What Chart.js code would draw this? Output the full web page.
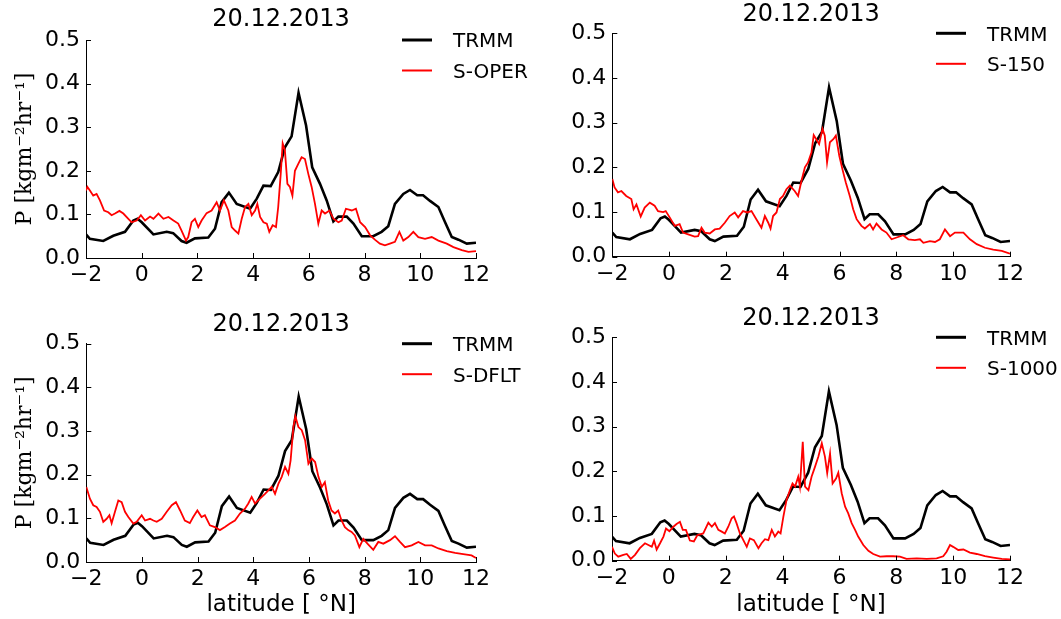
<!DOCTYPE html>
<html>
<head>
<meta charset="utf-8">
<script src="https://cdn.jsdelivr.net/npm/chart.js@4.4.1/dist/chart.umd.min.js"></script>
<style>
  body { margin: 0; background: #fff; }
  #wrap { position: relative; width: 1061px; height: 619px; }
  .panel { position: absolute; }
</style>
</head>
<body>
<div id="wrap">
  <div class="panel" style="left:0;top:0;width:530px;height:300px"><canvas id="c1"></canvas></div>
  <div class="panel" style="left:530px;top:0;width:531px;height:300px"><canvas id="c2"></canvas></div>
  <div class="panel" style="left:0;top:300px;width:530px;height:319px"><canvas id="c3"></canvas></div>
  <div class="panel" style="left:530px;top:300px;width:531px;height:319px"><canvas id="c4"></canvas></div>
</div>
<script>
// data
const dateTitle = '20.12.2013';
const xTicks = [-2, 0, 2, 4, 6, 8, 10, 12];
const xTickLabels = ['\u22122', '0', '2', '4', '6', '8', '10', '12'];
const yTicks = [0, 0.1, 0.2, 0.3, 0.4, 0.5];
const yTickLabels = ['0.0', '0.1', '0.2', '0.3', '0.4', '0.5'];

// TRMM (same in every panel)
const latTRMM = [-2, -1.86, -1.38, -1.02, -0.6, -0.3, -0.15, 0.0, 0.42, 0.9, 1.13, 1.43, 1.61, 1.91, 2.39, 2.63, 2.87, 3.13, 3.41, 3.89, 4.13, 4.37, 4.63, 4.9, 5.14, 5.38, 5.63, 5.9, 6.12, 6.4, 6.64, 6.88, 7.06, 7.36, 7.6, 7.9, 8.31, 8.61, 8.85, 9.09, 9.39, 9.63, 9.89, 10.1, 10.35, 10.65, 10.89, 11.13, 11.37, 11.67, 12];
const precTRMM = [0.054, 0.044, 0.039, 0.051, 0.06, 0.086, 0.09, 0.082, 0.054, 0.06, 0.057, 0.039, 0.035, 0.045, 0.047, 0.067, 0.128, 0.15, 0.124, 0.113, 0.136, 0.166, 0.165, 0.197, 0.254, 0.279, 0.379, 0.304, 0.208, 0.17, 0.132, 0.084, 0.095, 0.095, 0.079, 0.05, 0.05, 0.06, 0.073, 0.124, 0.147, 0.156, 0.144, 0.144, 0.131, 0.117, 0.082, 0.048, 0.042, 0.033, 0.035];

// S-OPER
const latOPER = [-2, -1.95, -1.86, -1.74, -1.62, -1.5, -1.35, -1.2, -1.08, -0.96, -0.8, -0.66, -0.48, -0.36, -0.18, -0.03, 0.12, 0.3, 0.42, 0.6, 0.78, 0.96, 1.14, 1.31, 1.43, 1.59, 1.67, 1.79, 1.91, 2.03, 2.15, 2.33, 2.51, 2.69, 2.81, 2.95, 3.11, 3.23, 3.35, 3.47, 3.59, 3.71, 3.83, 3.95, 4.07, 4.15, 4.25, 4.37, 4.49, 4.58, 4.7, 4.82, 4.9, 4.99, 5.06, 5.14, 5.23, 5.32, 5.41, 5.5, 5.62, 5.74, 5.86, 5.98, 6.1, 6.22, 6.34, 6.46, 6.58, 6.74, 6.88, 7.06, 7.18, 7.33, 7.54, 7.69, 7.84, 8.02, 8.2, 8.37, 8.55, 8.73, 8.91, 9.09, 9.25, 9.39, 9.57, 9.75, 9.93, 10.17, 10.41, 10.65, 10.95, 11.19, 11.49, 11.73, 12];
const precOPER = [0.155, 0.163, 0.155, 0.143, 0.147, 0.132, 0.109, 0.105, 0.098, 0.102, 0.108, 0.102, 0.09, 0.082, 0.086, 0.098, 0.086, 0.095, 0.09, 0.102, 0.09, 0.094, 0.086, 0.079, 0.063, 0.04, 0.048, 0.082, 0.09, 0.071, 0.086, 0.103, 0.109, 0.128, 0.109, 0.132, 0.109, 0.071, 0.063, 0.056, 0.09, 0.117, 0.124, 0.098, 0.109, 0.124, 0.094, 0.082, 0.079, 0.06, 0.075, 0.071, 0.117, 0.193, 0.263, 0.247, 0.17, 0.163, 0.143, 0.2, 0.216, 0.231, 0.227, 0.193, 0.163, 0.124, 0.079, 0.109, 0.102, 0.109, 0.09, 0.082, 0.086, 0.113, 0.109, 0.113, 0.082, 0.071, 0.052, 0.042, 0.033, 0.029, 0.033, 0.037, 0.06, 0.04, 0.048, 0.06, 0.048, 0.044, 0.048, 0.04, 0.033, 0.025, 0.018, 0.014, 0.016];

// S-150
const lat150 = [-2, -1.92, -1.8, -1.68, -1.51, -1.33, -1.25, -1.15, -1.0, -0.86, -0.68, -0.51, -0.39, -0.21, -0.12, 0.02, 0.2, 0.37, 0.49, 0.67, 0.9, 1.02, 1.14, 1.25, 1.43, 1.61, 1.78, 1.96, 2.13, 2.31, 2.43, 2.6, 2.75, 2.9, 3.07, 3.25, 3.37, 3.49, 3.57, 3.66, 3.78, 3.9, 4.01, 4.13, 4.25, 4.42, 4.54, 4.66, 4.78, 4.89, 5.01, 5.09, 5.18, 5.28, 5.4, 5.48, 5.56, 5.66, 5.78, 5.87, 5.99, 6.1, 6.22, 6.36, 6.48, 6.6, 6.77, 6.89, 7.07, 7.18, 7.3, 7.48, 7.65, 7.83, 8.01, 8.24, 8.42, 8.65, 8.83, 8.95, 9.18, 9.36, 9.53, 9.71, 9.89, 10.06, 10.36, 10.59, 10.83, 11.12, 11.41, 11.71, 12];
const prec150 = [0.174, 0.155, 0.144, 0.147, 0.136, 0.129, 0.106, 0.117, 0.09, 0.11, 0.121, 0.114, 0.102, 0.1, 0.102, 0.088, 0.069, 0.073, 0.054, 0.05, 0.045, 0.046, 0.065, 0.054, 0.052, 0.061, 0.063, 0.076, 0.091, 0.099, 0.088, 0.102, 0.099, 0.102, 0.084, 0.065, 0.091, 0.076, 0.063, 0.091, 0.099, 0.129, 0.136, 0.151, 0.159, 0.147, 0.136, 0.17, 0.2, 0.211, 0.233, 0.272, 0.263, 0.252, 0.286, 0.271, 0.211, 0.256, 0.263, 0.271, 0.226, 0.196, 0.166, 0.136, 0.106, 0.084, 0.069, 0.063, 0.073, 0.061, 0.074, 0.061, 0.054, 0.039, 0.043, 0.048, 0.039, 0.037, 0.039, 0.031, 0.035, 0.033, 0.039, 0.061, 0.046, 0.054, 0.054, 0.039, 0.028, 0.02, 0.016, 0.013, 0.007];

// S-DFLT
const latDFLT = [-2, -1.87, -1.75, -1.63, -1.51, -1.39, -1.27, -1.17, -1.09, -0.97, -0.85, -0.73, -0.61, -0.49, -0.31, -0.19, -0.01, 0.11, 0.29, 0.41, 0.53, 0.71, 0.89, 1.07, 1.22, 1.37, 1.54, 1.72, 1.84, 1.99, 2.14, 2.26, 2.44, 2.62, 2.8, 2.98, 3.16, 3.34, 3.52, 3.7, 3.82, 3.94, 4.06, 4.24, 4.42, 4.54, 4.66, 4.78, 4.9, 5.02, 5.14, 5.26, 5.34, 5.44, 5.51, 5.62, 5.74, 5.86, 5.98, 6.1, 6.22, 6.34, 6.46, 6.57, 6.69, 6.81, 6.93, 7.05, 7.17, 7.29, 7.41, 7.53, 7.65, 7.81, 7.95, 8.1, 8.31, 8.49, 8.67, 8.91, 9.09, 9.27, 9.45, 9.69, 9.93, 10.17, 10.41, 10.65, 10.95, 11.25, 11.54, 11.84, 12];
const precDFLT = [0.172, 0.145, 0.13, 0.126, 0.115, 0.092, 0.099, 0.107, 0.089, 0.115, 0.141, 0.137, 0.115, 0.103, 0.088, 0.092, 0.107, 0.095, 0.099, 0.095, 0.092, 0.099, 0.115, 0.13, 0.137, 0.118, 0.095, 0.089, 0.103, 0.118, 0.103, 0.107, 0.084, 0.08, 0.073, 0.08, 0.088, 0.095, 0.111, 0.122, 0.134, 0.149, 0.134, 0.145, 0.156, 0.164, 0.172, 0.156, 0.179, 0.195, 0.218, 0.202, 0.233, 0.309, 0.334, 0.309, 0.302, 0.279, 0.225, 0.237, 0.229, 0.195, 0.172, 0.183, 0.141, 0.118, 0.111, 0.118, 0.095, 0.08, 0.073, 0.069, 0.061, 0.034, 0.053, 0.042, 0.028, 0.046, 0.042, 0.05, 0.059, 0.046, 0.034, 0.038, 0.046, 0.038, 0.038, 0.031, 0.025, 0.021, 0.018, 0.015, 0.009];

// S-1000
const lat1000 = [-2, -1.9, -1.78, -1.6, -1.48, -1.34, -1.19, -1.02, -0.84, -0.72, -0.6, -0.52, -0.43, -0.31, -0.19, -0.1, 0.02, 0.16, 0.27, 0.39, 0.49, 0.6, 0.74, 0.88, 1.0, 1.21, 1.39, 1.51, 1.62, 1.74, 1.86, 1.97, 2.09, 2.21, 2.29, 2.38, 2.5, 2.62, 2.74, 2.85, 2.99, 3.15, 3.26, 3.38, 3.5, 3.62, 3.73, 3.85, 3.93, 4.03, 4.14, 4.26, 4.35, 4.44, 4.55, 4.61, 4.71, 4.79, 4.91, 5.02, 5.14, 5.26, 5.38, 5.49, 5.57, 5.67, 5.76, 5.88, 5.96, 6.08, 6.2, 6.31, 6.43, 6.55, 6.66, 6.84, 7.02, 7.19, 7.43, 7.66, 7.89, 8.13, 8.36, 8.72, 9.07, 9.42, 9.65, 9.77, 9.89, 10.0, 10.18, 10.36, 10.59, 10.83, 11.12, 11.41, 11.71, 12];
const prec1000 = [0.031, 0.016, 0.009, 0.013, 0.015, 0.004, 0.013, 0.028, 0.039, 0.035, 0.031, 0.045, 0.025, 0.039, 0.054, 0.072, 0.066, 0.076, 0.082, 0.087, 0.069, 0.069, 0.045, 0.043, 0.057, 0.061, 0.085, 0.076, 0.084, 0.069, 0.065, 0.061, 0.076, 0.095, 0.099, 0.084, 0.061, 0.046, 0.031, 0.05, 0.046, 0.028, 0.039, 0.048, 0.046, 0.069, 0.054, 0.065, 0.061, 0.099, 0.136, 0.158, 0.173, 0.166, 0.188, 0.166, 0.266, 0.166, 0.158, 0.188, 0.21, 0.233, 0.263, 0.233, 0.196, 0.24, 0.173, 0.184, 0.197, 0.151, 0.121, 0.106, 0.084, 0.069, 0.054, 0.035, 0.022, 0.015, 0.009, 0.01, 0.01, 0.009, 0.004, 0.005, 0.004, 0.005, 0.01, 0.02, 0.035, 0.031, 0.024, 0.025, 0.018, 0.015, 0.01, 0.007, 0.004, 0.003];

// inward tick marks, like the matplotlib original
const inTicks = {
  id: 'inTicks',
  afterDraw(chart) {
    const {ctx, chartArea: a, scales: {x, y}} = chart;
    ctx.save();
    ctx.strokeStyle = '#000';
    ctx.lineWidth = 1;
    ctx.beginPath();
    x.ticks.forEach(t => {
      const px = Math.round(x.getPixelForValue(t.value)) + 0.5;
      ctx.moveTo(px, a.bottom);
      ctx.lineTo(px, a.bottom - 5);
    });
    y.ticks.forEach(t => {
      const py = Math.round(y.getPixelForValue(t.value)) + 0.5;
      ctx.moveTo(a.left, py);
      ctx.lineTo(a.left + 5, py);
    });
    ctx.stroke();
    ctx.restore();
  }
};

// legend with line samples, sitting at the top right
const lineLegend = {
  id: 'lineLegend',
  afterDraw(chart) {
    const {ctx, chartArea: a} = chart;
    ctx.save();
    ctx.font = '20px "DejaVu Sans"';
    ctx.textBaseline = 'alphabetic';
    ctx.fillStyle = '#000';
    chart.data.datasets.forEach((ds, i) => {
      const yy = a.top + i * 30.5;
      ctx.strokeStyle = ds.borderColor;
      ctx.lineWidth = ds.legendWidth;
      ctx.beginPath();
      ctx.moveTo(a.right - 74, yy);
      ctx.lineTo(a.right - 44, yy);
      ctx.stroke();
      ctx.fillText(ds.label, a.right - 23, yy + 7.3);
    });
    ctx.restore();
  }
};

function makePanel(id, lat, prec, label, box) {
  new Chart(document.getElementById(id), {
    type: 'line',
    data: {
      datasets: [
        {
          label: 'TRMM',
          data: latTRMM.map((x, i) => ({x: x, y: precTRMM[i]})),
          borderColor: '#000000',
          borderWidth: 2.6,
          legendWidth: 3,
          order: 1
        },
        {
          label: label,
          data: lat.map((x, i) => ({x: x, y: prec[i]})),
          borderColor: '#ff0000',
          borderWidth: 1.8,
          legendWidth: 2,
          order: 0
        }
      ]
    },
    options: {
      responsive: true,
      maintainAspectRatio: false,
      animation: false,
      events: [],
      layout: {padding: {left: 0, top: 0, right: box.padRight, bottom: 0}},
      elements: {point: {radius: 0}, line: {tension: 0}},
      plugins: {
        legend: {display: false},
        tooltip: {enabled: false},
        title: {
          display: true,
          fullSize: false,
          text: dateTitle,
          color: '#000',
          font: {family: 'DejaVu Sans', size: 24, weight: 'normal'},
          padding: {top: box.titleTop, bottom: box.titleBottom}
        }
      },
      scales: {
        x: {
          type: 'linear',
          min: -2,
          max: 12,
          afterBuildTicks: s => { s.ticks = xTicks.map(v => ({value: v})); },
          afterFit: s => { s.height = box.xAxisH; },
          grid: {display: false, drawTicks: false},
          border: {display: true, color: '#000', width: 1},
          ticks: {
            color: '#000',
            padding: 4,
            maxRotation: 0,
            font: {family: 'DejaVu Sans', size: 22},
            callback: (v, i) => xTickLabels[i]
          },
          title: {
            display: box.xTitle,
            text: 'latitude [ \u00b0N]',
            color: '#000',
            font: {family: 'DejaVu Sans', size: 23},
            padding: {top: 0, bottom: 0}
          }
        },
        y: {
          min: 0,
          max: 0.5,
          afterBuildTicks: s => { s.ticks = yTicks.map(v => ({value: v})); },
          afterFit: s => { s.width = box.yAxisW; },
          grid: {display: false, drawTicks: false},
          border: {display: true, color: '#000', width: 1},
          ticks: {
            color: '#000',
            padding: 6,
            font: {family: 'DejaVu Sans', size: 22},
            callback: (v, i) => yTickLabels[i]
          },
          title: {
            display: box.yTitle,
            text: 'P [kgm\u207b\u00b2hr\u207b\u00b9]',
            color: '#000',
            font: {family: 'DejaVu Serif', size: 22},
            padding: {top: 12, bottom: 0}
          }
        }
      }
    },
    plugins: [inTicks, lineLegend]
  });
}

makePanel('c1', latOPER, precOPER, 'S-OPER',
  {padRight: 54, yAxisW: 86, xAxisH: 42, titleTop: 5.6, titleBottom: 5.6, xTitle: false, yTitle: true});
makePanel('c2', lat150, prec150, 'S-150',
  {padRight: 51, yAxisW: 82.3, xAxisH: 43.3, titleTop: 0.6, titleBottom: 3.9, xTitle: false, yTitle: false});
makePanel('c3', latDFLT, precDFLT, 'S-DFLT',
  {padRight: 54, yAxisW: 86.3, xAxisH: 57, titleTop: 10.6, titleBottom: 4.3, xTitle: true, yTitle: true});
makePanel('c4', lat1000, prec1000, 'S-1000',
  {padRight: 51, yAxisW: 82, xAxisH: 58.3, titleTop: 4.6, titleBottom: 3.9, xTitle: true, yTitle: false});
</script>
</body>
</html>
